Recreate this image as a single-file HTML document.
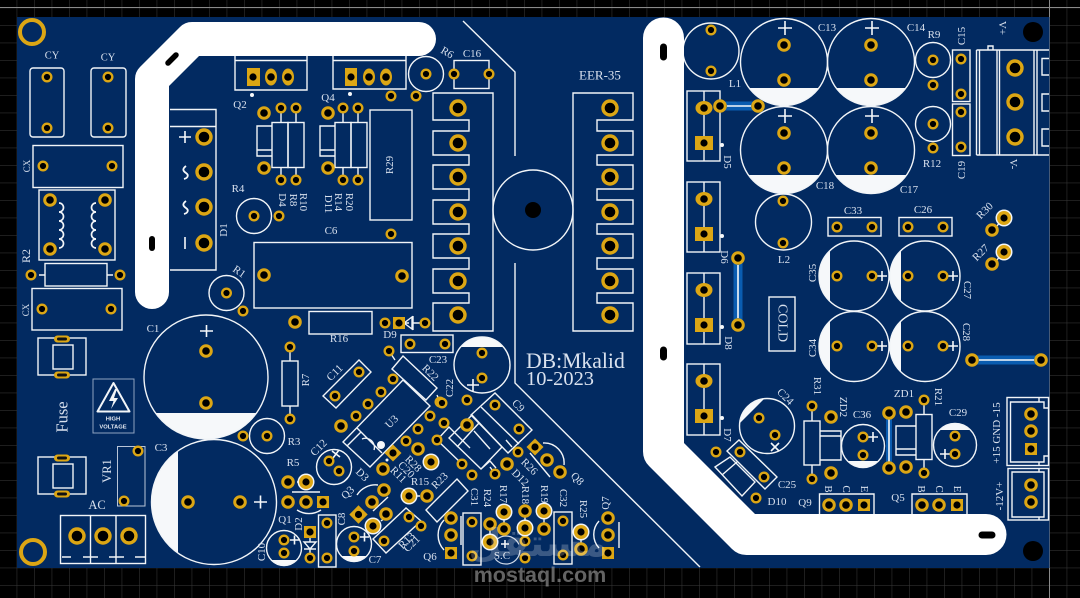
<!DOCTYPE html>
<html><head><meta charset="utf-8"><style>
html,body{margin:0;padding:0;background:#000}
svg{display:block}
.si{fill:none;stroke:#f2f5f8;stroke-width:1.4}
.fw{fill:#f6f8fa;stroke:none}
text{font-family:"Liberation Serif",serif;fill:#d9e1ee;font-size:11px;text-anchor:middle;dominant-baseline:central}
.s circle{r:4.3px;fill:#000;stroke:#dca614;stroke-width:2.4px}
.m circle{r:5.3px;fill:#000;stroke:#dca614;stroke-width:3px}
.l circle{r:7px;fill:#000;stroke:#dca614;stroke-width:3.4px}
.sq rect{fill:#dca614}
.sq circle{r:3.6px;fill:#000}
.ov ellipse{fill:#dca614}
.ov circle{r:3.8px;fill:#000}
.jp{stroke:#0a5cb0;stroke-width:9;fill:none}
.jw{stroke:#f6f8fa;stroke-width:1.6;fill:none}
</style></head><body>
<svg width="1080" height="598" viewBox="0 0 1080 598" xmlns="http://www.w3.org/2000/svg">
<defs>
<pattern id="g" x="16.7" y="7.7" width="17.5" height="17.5" patternUnits="userSpaceOnUse"><path d="M0 0V17.5M0 0H17.5" stroke="#3b3b3b" stroke-width="1" fill="none"/></pattern>
<g id="rp"><circle r="8.5" fill="#f2f5f8"/><circle r="7" fill="#dca614"/><circle r="3.6" fill="#000"/></g>
</defs>
<rect width="1080" height="598" fill="#000"/>
<rect width="1080" height="598" fill="url(#g)"/>
<path d="M0 7.5H1080M1049.5 0V598" stroke="#8a8a8a" stroke-width="1"/>
<rect x="17" y="17" width="1032.5" height="551" fill="#022a61"/>
<circle cx="32" cy="32" r="12" fill="none" stroke="#dca614" stroke-width="4"/>
<circle cx="33" cy="552" r="12" fill="none" stroke="#dca614" stroke-width="4"/>

<!-- jumpers -->
<path class="jp" d="M720 106H758M738 258V325M972 360H1041"/>
<path class="jw" d="M727 106H751M738 265V318M979 360H1034"/>
<path d="M889 418V464" stroke="#0a5cb0" stroke-width="6"/><path class="jw" d="M889 418V464"/>

<!-- white silk fills -->
<path class="fw" d="M155.500 413H256.500A62 62 0 0 1 155.500 413Z
M178 450.900V553.100A62.500 62.500 0 0 1 178 450.900Z
M749.100 88H818.900A43.500 43.500 0 0 1 749.100 88Z
M836.100 88H905.900A43.500 43.500 0 0 1 836.100 88Z
M748.400 175H819.600A43.500 43.500 0 0 1 748.400 175Z
M835.400 175H906.600A43.500 43.500 0 0 1 835.400 175Z
M830 250.500V301.500A35 35 0 0 1 830 250.500Z
M901 250.500V301.500A35 35 0 0 1 901 250.500Z
M830 321V372A35 35 0 0 1 830 321Z
M901 321V372A35 35 0 0 1 901 321Z
M460.600 347H503.400A28 28 0 0 0 460.600 347Z
M740 423L765 398A28 28 0 0 0 740 423Z
M847 461H879A22 22 0 0 1 847 461Z
M939 430H971A22 22 0 0 0 939 430Z
M270.600 560H297.400A18 18 0 0 1 270.600 560Z
M340.600 556H367.400A18 18 0 0 1 340.600 556Z
M341 484L351 473A18 18 0 0 1 341 484Z"/>

<!-- silk outlines -->
<g class="si">
<rect x="30" y="68" width="34" height="69" rx="3"/><rect x="91" y="68" width="35" height="69" rx="3"/>
<rect x="33" y="145.500" width="90" height="42"/><rect x="39" y="190" width="76" height="70"/>
<path d="M59 203a4.500 4.500 0 0 1 0 9a4.500 4.500 0 0 1 0 9a4.500 4.500 0 0 1 0 9a4.500 4.500 0 0 1 0 9a4.500 4.500 0 0 1 0 9M96 203a4.500 4.500 0 0 0 0 9a4.500 4.500 0 0 0 0 9a4.500 4.500 0 0 0 0 9a4.500 4.500 0 0 0 0 9a4.500 4.500 0 0 0 0 9" stroke-width="1.700"/>
<rect x="45" y="263.500" width="62" height="22.500"/><path d="M39 275H45M107 275H113"/>
<rect x="32" y="288.500" width="90" height="41.500"/>
<rect x="38" y="338" width="48" height="37"/><rect x="53" y="345" width="20" height="24"/>
<rect x="38" y="457" width="48" height="37"/><rect x="53" y="464" width="20" height="24"/>
<rect x="93" y="379" width="41" height="54" stroke-width="1" stroke="#8fa2bf"/>
<path d="M113.500 383L97.500 411.500H129.500Z" stroke-width="2" stroke-linejoin="round"/>
<rect x="117.500" y="446.500" width="27.500" height="59.500" stroke="#b9c5d8" stroke-width="1"/>
<rect x="60.500" y="515.500" width="85" height="48"/><path d="M90.500 515.500V563.500M116 515.500V563.500M62 557H71M83 557H98M109 557H124M135 557H145"/>
<circle cx="206" cy="377" r="62"/><circle cx="214" cy="502" r="62.500"/>
<circle cx="267" cy="436" r="17.500"/><circle cx="226.500" cy="293" r="17.500"/>
<circle cx="254" cy="216" r="17.500"/><circle cx="426" cy="74" r="17.500"/>
<rect x="282" y="361" width="16" height="45"/><path d="M290 352V361M290 406V414"/>
<rect x="309" y="311.500" width="63" height="22.500"/>
<rect x="254" y="242.500" width="158" height="65.500"/>
<path d="M170 109.500H216V270H170M170 126.500H216"/>
<path d="M235 56V90H307V56M235 60.500H307M333 56V89H406V56M333 60.500H406"/>
<rect x="272" y="122.500" width="16" height="45"/><rect x="288" y="122.500" width="16" height="45"/>
<path d="M272 126H257V156H272M257 150H272M281 113V122M296 113V122M281 167V175M296 167V175"/>
<rect x="335" y="122.500" width="16" height="45"/><rect x="351" y="122.500" width="16" height="45"/>
<path d="M335 126H320V156H335M320 150H335M343 113V122M358 113V122M343 167V175M358 167V175"/>
<rect x="370" y="110" width="42" height="110"/>
<rect x="454" y="60.500" width="35" height="28"/>
<path d="M433 93H493V331H433V303H469V293H433V269H469V258H433V234H469V224H433V200H469V189H433V165H469V155H433V131H469V120H433Z"/>
<path d="M573 93H633V120H597V131H633V155H597V165H633V189H597V200H633V224H597V234H633V258H597V269H633V293H597V303H633V331H573Z"/>
<circle cx="533" cy="210" r="40"/>
<path d="M463 21L515 72V156M515 263V383L700 567"/>
<rect x="687" y="91" width="33" height="70"/><path d="M704 91V161"/>
<rect x="687" y="182" width="33" height="70"/><path d="M704 182V252"/>
<rect x="687" y="273" width="33" height="71"/><path d="M704 273V344"/>
<rect x="687" y="364" width="33" height="71"/><path d="M704 364V435"/>
<circle cx="711" cy="51" r="28"/>
<circle cx="784" cy="62" r="43.500"/><circle cx="871" cy="62" r="43.500"/>
<circle cx="784" cy="150" r="43.500"/><circle cx="871" cy="150" r="43.500"/>
<circle cx="933" cy="60" r="17.500"/><circle cx="933" cy="124" r="17.500"/>
<rect x="952.500" y="50" width="17.500" height="51.500"/><rect x="952.500" y="104" width="17.500" height="51.500"/>
<path d="M976.500 50H1049M976.500 155H1049M976.500 50V155M979.500 50V155M997 50V155M999.500 50V155M1034 50V155M1037 50V155M988 50V46H993V50M1049 58.500H1042V75H1049M1049 94H1042V111H1049M1049 129H1042V146H1049"/>
<circle cx="783.500" cy="222" r="28"/>
<rect x="828" y="217.500" width="53" height="18.500"/><rect x="899" y="217.500" width="53" height="18.500"/>
<circle cx="854" cy="276" r="35"/><circle cx="925" cy="276" r="35"/>
<circle cx="854" cy="346.500" r="35"/><circle cx="925" cy="346.500" r="35"/>
<rect x="769" y="297" width="26" height="54"/>
<rect x="804" y="421" width="16" height="44"/><path d="M812 411V421M812 465V474"/>
<path d="M820 431H841V460H820M820 436H841"/>
<circle cx="863" cy="446" r="21.500"/>
<path d="M916 426H896V455H916M896 449H916"/>
<rect x="916" y="414.500" width="16" height="45"/><path d="M924 405V414M924 459V468"/>
<circle cx="955" cy="445" r="21.500"/>
<circle cx="767" cy="426" r="27.500"/>
<path d="M727 451L739 440L777 477L765 489Z"/>
<path d="M715 467L730 457L755 482L742 496ZM722 475L737 462"/>
<path d="M819.500 515V494H874V515M912 515V494H967V515"/>
<rect x="1007" y="397.500" width="41.500" height="68"/>
<path d="M1044 402H1010.500V462H1044M1039 397.500V402H1044V408H1048M1039 466V462H1044V456H1048"/>
<rect x="1008" y="468.500" width="40.500" height="51.500"/>
<path d="M1012 472H1044V517H1012ZM1039 468V472M1039 517V520"/>
<circle cx="482" cy="365" r="28"/>
<rect x="401" y="335" width="52" height="17.500"/>
<path d="M403 323H409M404 323L412 317V329ZM413 316V330M413 323H420"/>
<path d="M323 396L359 360L371 372L336 408Z"/>
<path d="M392 369L403 356L437 388L426 400ZM389 351L395 360M437 395L440 402"/>
<path d="M343 442L403 380L430 406L370 467ZM357 428L382 453M347 446L361 432M362 439a9 9 0 0 1 12 11"/>
<circle cx="334" cy="467" r="17.500"/>
<path d="M292 492H320M297 510A22 22 0 0 0 321 510M297 482H302"/>
<circle cx="284" cy="548" r="17.500"/>
<path d="M304 542H316L310 549ZM304 549H316M310 537V542M310 549V553"/>
<rect x="318.500" y="515" width="17.500" height="52"/>
<circle cx="354" cy="544" r="17.500"/>
<path d="M357 495A22 22 0 0 1 378 485"/>
<path d="M373 539L406 508L421 521L386 553ZM388 497L373 511M381 521L386 517"/>
<path d="M426 510L457 479L468 491L437 522Z"/>
<path d="M437 440L449 427L470 448M462 464L437 440"/>
<path d="M444 520A22 22 0 0 0 444 550"/>
<rect x="463" y="513" width="18" height="52"/><path d="M461 516V545"/>
<path d="M471 415L495 393L532 430L508 453ZM481 407L519 444"/>
<path d="M449 438L472 415L502 447L481 469ZM457 447L479 423M474 431L490 449M481 469L490 461L496 468M495 474L490 467"/>
<path d="M543 443A20 20 0 0 1 564 465M530 453L550 477M506 440L512 447"/>
<rect x="554" y="512" width="18" height="52"/>
<path d="M599 521A20 20 0 0 0 599 548M619 522V548"/>
<circle cx="506" cy="550" r="14" stroke="#cfd9e8" stroke-width="1.200" stroke-dasharray="34 14"/>
<path d="M504 517V523M525 517V523M544 517V523M581 539V543M490 530V536M414 496H420M1000 222L997 226M1000 256L997 260"/>
</g>

<!-- plus marks and symbols -->
<path d="M200 331H213M206.500 325V337M254 502H267M260.500 495.500V508.500M778 28H792M785 21V35M865 28H879M872 21V35M778 116H792M785 109V123M865 116H879M872 109V123M877 276H887M882 271V281M948 276H958M953 271V281M877 346H887M882 341V351M948 346H958M953 341V351M868 437H878M873 432V442M940 454H950M945 449V459M467 385H479M473 379V391M290 540H299M294.500 535.500V544.500M360 537H369M364.500 532.500V541.500M179 137H191M185 131V143M185 237V249M771 443L779 451M779 443L771 451M332 451L340 457M339 450L333 458M501 544H509M505 540V548" stroke="#f6f8fa" stroke-width="1.600" fill="none"/>
<path d="M186 166c-4 3 -3 5 0 7c3 2 2 5 -2 6M186 201c-4 3 -3 5 0 7c3 2 2 5 -2 6" stroke="#f6f8fa" stroke-width="1.800" fill="none"/>
<path d="M115 389L109 401H113.500L111 409L118 398H114L117 389Z" fill="#f2f5f8"/>
<text x="113" y="419.500" style="font:bold 5.800px 'Liberation Sans',sans-serif;fill:#e6ebf3">HIGH</text>
<text x="113" y="427.500" style="font:bold 5.800px 'Liberation Sans',sans-serif;fill:#e6ebf3">VOLTAGE</text>

<!-- small dots -->
<g fill="#f6f8fa"><circle cx="252" cy="95" r="2"/><circle cx="350" cy="94" r="2"/><circle cx="722" cy="145" r="2"/><circle cx="722" cy="236" r="2"/><circle cx="722" cy="327" r="2"/><circle cx="722" cy="418" r="2"/><circle cx="381" cy="445" r="4"/><circle cx="387" cy="460" r="1.500"/></g>

<!-- small pads -->
<g class="s">
<circle cx="47" cy="77"/><circle cx="47" cy="128"/><circle cx="108" cy="77"/><circle cx="108" cy="128"/>
<circle cx="43" cy="166"/><circle cx="112" cy="166"/><circle cx="42" cy="309"/><circle cx="111" cy="309"/>
<circle cx="31" cy="275"/><circle cx="120" cy="275"/><circle cx="138" cy="451"/><circle cx="124" cy="501"/>
<circle cx="243" cy="311"/><circle cx="243" cy="436"/><circle cx="267" cy="436"/><circle cx="226.500" cy="293"/>
<circle cx="290" cy="347"/><circle cx="290" cy="419"/>
<circle cx="254" cy="216"/><circle cx="279" cy="216"/>
<circle cx="281" cy="108"/><circle cx="296" cy="108"/><circle cx="281" cy="180"/><circle cx="296" cy="180"/>
<circle cx="343" cy="108"/><circle cx="358" cy="108"/><circle cx="343" cy="180"/><circle cx="358" cy="180"/>
<circle cx="391" cy="96"/><circle cx="416" cy="96"/><circle cx="391" cy="234"/><circle cx="426" cy="74"/><circle cx="454" cy="74"/><circle cx="489" cy="74"/>
<circle cx="711" cy="30"/><circle cx="711" cy="71"/><circle cx="933" cy="60"/><circle cx="933" cy="85"/><circle cx="933" cy="124"/><circle cx="933" cy="148"/>
<circle cx="961" cy="59"/><circle cx="961" cy="94"/><circle cx="961" cy="112"/><circle cx="961" cy="147"/>
<circle cx="783" cy="201"/><circle cx="783" cy="243"/>
<circle cx="837" cy="227"/><circle cx="872" cy="227"/><circle cx="908" cy="227"/><circle cx="943" cy="227"/>
<circle cx="837" cy="276"/><circle cx="872" cy="276"/><circle cx="908" cy="276"/><circle cx="943" cy="276"/>
<circle cx="837" cy="346"/><circle cx="872" cy="346"/><circle cx="908" cy="346"/><circle cx="943" cy="346"/>
<circle cx="759" cy="418"/><circle cx="775" cy="435"/><circle cx="812" cy="406"/><circle cx="812" cy="479"/>
<circle cx="863" cy="437"/><circle cx="863" cy="455"/><circle cx="924" cy="400"/><circle cx="924" cy="473"/>
<circle cx="955" cy="436"/><circle cx="955" cy="454"/><circle cx="740" cy="452"/><circle cx="764" cy="477"/><circle cx="716" cy="452"/><circle cx="756" cy="498"/>
<circle cx="482" cy="353"/><circle cx="482" cy="378"/><circle cx="385" cy="323"/><circle cx="425" cy="323"/><circle cx="410" cy="344"/><circle cx="445" cy="344"/>
<circle cx="335" cy="396"/><circle cx="359" cy="372"/><circle cx="389" cy="351"/><circle cx="393" cy="379"/><circle cx="381" cy="392"/><circle cx="368" cy="404"/><circle cx="356" cy="416"/>
<circle cx="430" cy="416"/><circle cx="444" cy="423"/><circle cx="418" cy="429"/><circle cx="406" cy="441"/><circle cx="440" cy="402"/><circle cx="467" cy="400"/><circle cx="442" cy="403"/>
<circle cx="437" cy="440"/><circle cx="462" cy="464"/><circle cx="472" cy="475"/><circle cx="495" cy="405"/><circle cx="519" cy="429"/><circle cx="518" cy="452"/><circle cx="495" cy="474"/>
<circle cx="329" cy="461"/><circle cx="339" cy="471"/><circle cx="284" cy="540"/><circle cx="284" cy="553"/><circle cx="354" cy="537"/><circle cx="354" cy="551"/>
<circle cx="327" cy="523"/><circle cx="327" cy="558"/><circle cx="310" cy="558"/><circle cx="409" cy="517"/><circle cx="384" cy="541"/><circle cx="421" cy="526"/>
<circle cx="472" cy="522"/><circle cx="472" cy="556"/><circle cx="563" cy="521"/><circle cx="563" cy="555"/><circle cx="525" cy="541"/><circle cx="525" cy="558"/>
</g>

<!-- medium pads -->
<g class="m">
<circle cx="50" cy="200"/><circle cx="105" cy="200"/><circle cx="50" cy="249"/><circle cx="105" cy="249"/>
<circle cx="206" cy="351"/><circle cx="206" cy="403"/><circle cx="188" cy="502"/><circle cx="240" cy="502"/>
<circle cx="784" cy="45"/><circle cx="784" cy="80"/><circle cx="871" cy="45"/><circle cx="871" cy="80"/><circle cx="784" cy="133"/><circle cx="784" cy="168"/><circle cx="871" cy="133"/><circle cx="871" cy="168"/>
<circle cx="720" cy="106"/><circle cx="758" cy="106"/><circle cx="738" cy="258"/><circle cx="738" cy="325"/><circle cx="972" cy="360"/><circle cx="1041" cy="360"/>
<circle cx="829" cy="505"/><circle cx="846" cy="505"/><circle cx="922" cy="505"/><circle cx="939" cy="505"/><circle cx="1031" cy="414"/><circle cx="1031" cy="431"/><circle cx="1031" cy="485"/><circle cx="1031" cy="502"/>
<circle cx="992" cy="230"/><circle cx="992" cy="264"/><circle cx="831" cy="417"/><circle cx="831" cy="473"/><circle cx="906" cy="412"/><circle cx="906" cy="467"/><circle cx="889" cy="413"/><circle cx="889" cy="468"/>
<circle cx="264" cy="113"/><circle cx="264" cy="168"/><circle cx="328" cy="113"/><circle cx="328" cy="168"/>
<circle cx="264" cy="275"/><circle cx="402" cy="276"/><circle cx="295" cy="322"/>
<circle cx="288" cy="482"/><circle cx="288" cy="502"/><circle cx="306" cy="502"/>
<circle cx="451" cy="518"/><circle cx="451" cy="535"/><circle cx="608" cy="518"/><circle cx="608" cy="535"/><circle cx="547" cy="460"/><circle cx="560" cy="472"/>
<circle cx="427" cy="496"/><circle cx="384" cy="490"/><circle cx="372" cy="502"/><circle cx="386" cy="514"/><circle cx="383" cy="469"/><circle cx="418" cy="449"/><circle cx="341" cy="426"/><circle cx="467" cy="425"/><circle cx="507" cy="464"/>
<circle cx="490" cy="524"/><circle cx="504" cy="529"/><circle cx="544" cy="529"/><circle cx="581" cy="549"/>
</g>

<!-- large pads -->
<g class="l">
<circle cx="204" cy="137"/><circle cx="204" cy="172"/><circle cx="204" cy="207"/><circle cx="204" cy="243"/>
<circle cx="77" cy="536"/><circle cx="103" cy="536"/><circle cx="129" cy="536"/>
<circle cx="458" cy="108"/><circle cx="458" cy="143"/><circle cx="458" cy="177"/><circle cx="458" cy="212"/><circle cx="458" cy="246"/><circle cx="458" cy="281"/><circle cx="458" cy="315"/>
<circle cx="610" cy="108"/><circle cx="610" cy="143"/><circle cx="610" cy="177"/><circle cx="610" cy="212"/><circle cx="610" cy="246"/><circle cx="610" cy="281"/><circle cx="610" cy="315"/>
<circle cx="1015" cy="68"/><circle cx="1015" cy="102"/><circle cx="1015" cy="137"/>
</g>

<!-- ring pads -->
<use href="#rp" x="1004" y="218"/><use href="#rp" x="1004" y="252"/><use href="#rp" x="306" y="482"/><use href="#rp" x="431" y="462"/><use href="#rp" x="409" y="496"/><use href="#rp" x="373" y="526"/><use href="#rp" x="504" y="512"/><use href="#rp" x="525" y="528"/><use href="#rp" x="544" y="511"/><use href="#rp" x="581" y="532"/><use href="#rp" x="490" y="542"/>
<g class="m"><circle cx="525" cy="511"/></g>

<!-- square pads -->
<g class="sq">
<rect x="247" y="68" width="13" height="18"/><circle cx="253" cy="77"/>
<rect x="345" y="68" width="12" height="18"/><circle cx="351" cy="77"/>
<rect x="695" y="136" width="18" height="14"/><circle cx="704" cy="143"/>
<rect x="695" y="227" width="18" height="14"/><circle cx="704" cy="234"/>
<rect x="695" y="318" width="18" height="14"/><circle cx="704" cy="325"/>
<rect x="695" y="409" width="18" height="14"/><circle cx="704" cy="416"/>
<rect x="858" y="499" width="12" height="12"/><circle cx="864" cy="505"/>
<rect x="951" y="499" width="12" height="12"/><circle cx="957" cy="505"/>
<rect x="1025" y="443" width="12" height="12"/><circle cx="1031" cy="449"/>
<rect x="317" y="496" width="12" height="12"/><circle cx="323" cy="502"/>
<rect x="304" y="526" width="12" height="12"/><circle cx="310" cy="532"/>
<rect x="393" y="317" width="12" height="12"/><circle cx="399" cy="323"/>
<rect x="445" y="547" width="12" height="12"/><circle cx="451" cy="553"/>
<rect x="602" y="547" width="12" height="12"/><circle cx="608" cy="553"/>
<rect x="387" y="447" width="12" height="12" transform="rotate(45 393 453)"/><circle cx="393" cy="453"/>
<rect x="352" y="508" width="13" height="13" transform="rotate(45 358.500 514.500)"/><circle cx="358.500" cy="514.500"/>
<rect x="529" y="441" width="12" height="12" transform="rotate(45 535 447)"/><circle cx="535" cy="447"/>
</g>

<!-- oval pads -->
<g class="ov">
<ellipse cx="271" cy="77" rx="6" ry="8.500"/><circle cx="271" cy="77"/><ellipse cx="288" cy="77" rx="6" ry="8.500"/><circle cx="288" cy="77"/>
<ellipse cx="369" cy="77" rx="6" ry="8.500"/><circle cx="369" cy="77"/><ellipse cx="386" cy="77" rx="6" ry="8.500"/><circle cx="386" cy="77"/>
<ellipse cx="704" cy="108" rx="8.500" ry="7"/><circle cx="704" cy="108"/><ellipse cx="704" cy="199" rx="8.500" ry="7"/><circle cx="704" cy="199"/>
<ellipse cx="704" cy="290" rx="8.500" ry="7"/><circle cx="704" cy="290"/><ellipse cx="704" cy="381" rx="8.500" ry="7"/><circle cx="704" cy="381"/>
</g>
<g fill="#dca614"><rect x="54" y="335.500" width="16" height="7" rx="3.500"/><rect x="54" y="371.500" width="16" height="7" rx="3.500"/><rect x="54" y="454.500" width="16" height="7" rx="3.500"/><rect x="54" y="490.500" width="16" height="7" rx="3.500"/></g>
<g fill="#111"><rect x="57" y="337.500" width="10" height="3" rx="1.500"/><rect x="57" y="373.500" width="10" height="3" rx="1.500"/><rect x="57" y="456.500" width="10" height="3" rx="1.500"/><rect x="57" y="492.500" width="10" height="3" rx="1.500"/></g>

<!-- thick traces -->
<path d="M419 39H192L152 79V292" fill="none" stroke="#fff" stroke-width="34" stroke-linecap="round" stroke-linejoin="round"/>
<path d="M663.500 38V451.500L746.500 534.500H986" fill="none" stroke="#fff" stroke-width="41" stroke-linecap="round" stroke-linejoin="round"/>
<g stroke="#000" stroke-linecap="round" fill="none"><path d="M168 63L176 55" stroke-width="5.500"/><path d="M152 239V248" stroke-width="6"/><path d="M663.500 47V57" stroke-width="7"/><path d="M663.500 350V357" stroke-width="7"/><path d="M982 535H992" stroke-width="7"/></g>
<circle cx="533" cy="210" r="8" fill="#000"/>
<circle cx="1033" cy="32" r="10" fill="#000"/><circle cx="1033" cy="551" r="10" fill="#000"/>

<!-- labels -->
<text x="52" y="56" style="font-size:10.500px">CY</text><text x="108" y="58" style="font-size:10.500px">CY</text>
<text x="27" y="166" transform="rotate(-90 27 166)" style="font-size:9px">CX</text><text x="26" y="310" transform="rotate(-90 26 310)" style="font-size:9px">CX</text>
<text x="26" y="256" transform="rotate(-90 26 256)" style="font-size:12px">R2</text>
<text x="62" y="417" transform="rotate(-90 62 417)" style="font-size:16.500px">Fuse</text>
<text x="107" y="471" transform="rotate(-90 107 471)" style="font-size:12.500px">VR1</text>
<text x="97" y="505" style="font-size:12.500px">AC</text>
<text x="153" y="329">C1</text><text x="161" y="448">C3</text><text x="294" y="442">R3</text>
<text x="306" y="380" transform="rotate(-90 306 380)">R7</text><text x="339" y="339">R16</text>
<text x="239" y="272" transform="rotate(35 239 272)">R1</text><text x="331" y="231">C6</text>
<text x="224" y="230" transform="rotate(-90 224 230)">D1</text><text x="238" y="189">R4</text>
<text x="240" y="105">Q2</text><text x="328" y="98">Q4</text>
<text x="282" y="200" transform="rotate(90 282 200)">D4</text><text x="293" y="200" transform="rotate(90 293 200)">R8</text><text x="303" y="202" transform="rotate(90 303 202)">R10</text>
<text x="328" y="204" transform="rotate(90 328 204)">D11</text><text x="338" y="202" transform="rotate(90 338 202)">R14</text><text x="349" y="202" transform="rotate(90 349 202)">R20</text>
<text x="390" y="165" transform="rotate(-90 390 165)">R29</text>
<text x="447" y="53" transform="rotate(30 447 53)">R6</text><text x="472" y="54">C16</text>
<text x="600" y="75" style="font-size:13px">EER-35</text>
<text x="526" y="361" style="text-anchor:start;font-size:21.700px">DB:Mkalid</text>
<text x="526" y="379" style="text-anchor:start;font-size:20.400px">10-2023</text>
<text x="735" y="84">L1</text>
<text x="827" y="28">C13</text><text x="916" y="28">C14</text><text x="825" y="186">C18</text><text x="909" y="190">C17</text>
<text x="934" y="35">R9</text><text x="932" y="164">R12</text>
<text x="962" y="36" transform="rotate(-90 962 36)">C15</text><text x="962" y="170" transform="rotate(-90 962 170)">C19</text>
<text x="1002" y="28" transform="rotate(90 1002 28)">V+</text><text x="1013" y="164" transform="rotate(90 1013 164)">V-</text>
<text x="727" y="162" transform="rotate(90 727 162)">D5</text><text x="724" y="257" transform="rotate(90 724 257)">D6</text><text x="728" y="343" transform="rotate(90 728 343)">D8</text><text x="727" y="435" transform="rotate(90 727 435)">D7</text>
<text x="784" y="260">L2</text><text x="853" y="211">C33</text><text x="923" y="210">C26</text>
<text x="813" y="273" transform="rotate(-90 813 273)">C35</text><text x="967" y="290" transform="rotate(90 967 290)">C27</text>
<text x="813" y="348" transform="rotate(-90 813 348)">C34</text><text x="966" y="332" transform="rotate(90 966 332)">C28</text>
<text x="985" y="211" transform="rotate(-45 985 211)">R30</text><text x="981" y="253" transform="rotate(-45 981 253)">R27</text>
<text x="782" y="323" transform="rotate(90 782 323)" style="font-size:14px">COLD</text>
<text x="817" y="386" transform="rotate(90 817 386)">R31</text><text x="843" y="407" transform="rotate(90 843 407)">ZD2</text>
<text x="862" y="415">C36</text><text x="904" y="394">ZD1</text><text x="938" y="397" transform="rotate(90 938 397)">R21</text><text x="958" y="413">C29</text>
<text x="785" y="397" transform="rotate(45 785 397)">C24</text><text x="787" y="485">C25</text><text x="777" y="502">D10</text>
<text x="805" y="503">Q9</text><text x="898" y="498">Q5</text>
<text x="828" y="489" transform="rotate(90 828 489)">B</text><text x="846" y="489" transform="rotate(90 846 489)">C</text><text x="864" y="489" transform="rotate(90 864 489)">E</text>
<text x="921" y="489" transform="rotate(90 921 489)">B</text><text x="939" y="489" transform="rotate(90 939 489)">C</text><text x="957" y="489" transform="rotate(90 957 489)">E</text>
<text x="997" y="433" transform="rotate(-90 997 433)">+15 GND -15</text>
<text x="1000" y="496" transform="rotate(-90 1000 496)">-12V+</text>
<text x="390" y="335">D9</text><text x="438" y="360">C23</text><text x="450" y="388" transform="rotate(-90 450 388)">C22</text>
<text x="430" y="373" transform="rotate(45 430 373)">R22</text><text x="335" y="373" transform="rotate(-45 335 373)">C11</text>
<text x="392" y="422" transform="rotate(-45 392 422)">U3</text><text x="362" y="475" transform="rotate(45 362 475)">D3</text>
<text x="413" y="464" transform="rotate(45 413 464)">R28</text><text x="406" y="470" transform="rotate(45 406 470)">C20</text><text x="398" y="475" transform="rotate(45 398 475)">R11</text>
<text x="420" y="482">R15</text><text x="440" y="481" transform="rotate(-45 440 481)">R23</text>
<text x="474" y="497" transform="rotate(90 474 497)">C31</text>
<text x="407" y="541" transform="rotate(-45 407 541)">R13</text><text x="412" y="544" transform="rotate(-45 412 544)">C21</text>
<text x="348" y="493" transform="rotate(-45 348 493)">Q3</text><text x="319" y="448" transform="rotate(-45 319 448)">C12</text>
<text x="293" y="463">R5</text><text x="285" y="520">Q1</text>
<text x="262" y="552" transform="rotate(-90 262 552)">C10</text><text x="299" y="524" transform="rotate(-90 299 524)">D2</text>
<text x="342" y="519" transform="rotate(-90 342 519)">C8</text><text x="375" y="560">C7</text><text x="430" y="557">Q6</text>
<text x="518" y="406" transform="rotate(45 518 406)">C9</text><text x="520" y="478" transform="rotate(45 520 478)">D12</text><text x="529" y="467" transform="rotate(45 529 467)">R26</text>
<text x="577" y="479" transform="rotate(45 577 479)">Q8</text>
<text x="487" y="498" transform="rotate(90 487 498)">R24</text><text x="503" y="494" transform="rotate(90 503 494)">R17</text><text x="525" y="495" transform="rotate(90 525 495)">R18</text><text x="544" y="494" transform="rotate(90 544 494)">R19</text>
<text x="563" y="498" transform="rotate(90 563 498)">C32</text><text x="583" y="509" transform="rotate(90 583 509)">R25</text><text x="606" y="503" transform="rotate(-90 606 503)">Q7</text>
<text x="502" y="556">S.C</text>

<!-- watermark -->
<text x="538" y="543" style="font-family:'DejaVu Sans',sans-serif;font-weight:bold;font-size:38px;fill:#fff;opacity:.22">مستقل</text>
<text x="540" y="575" style="font-family:'Liberation Sans',sans-serif;font-weight:bold;font-size:21.500px;fill:#a6a6a6;opacity:.6">mostaql.com</text>
</svg>
</body></html>
